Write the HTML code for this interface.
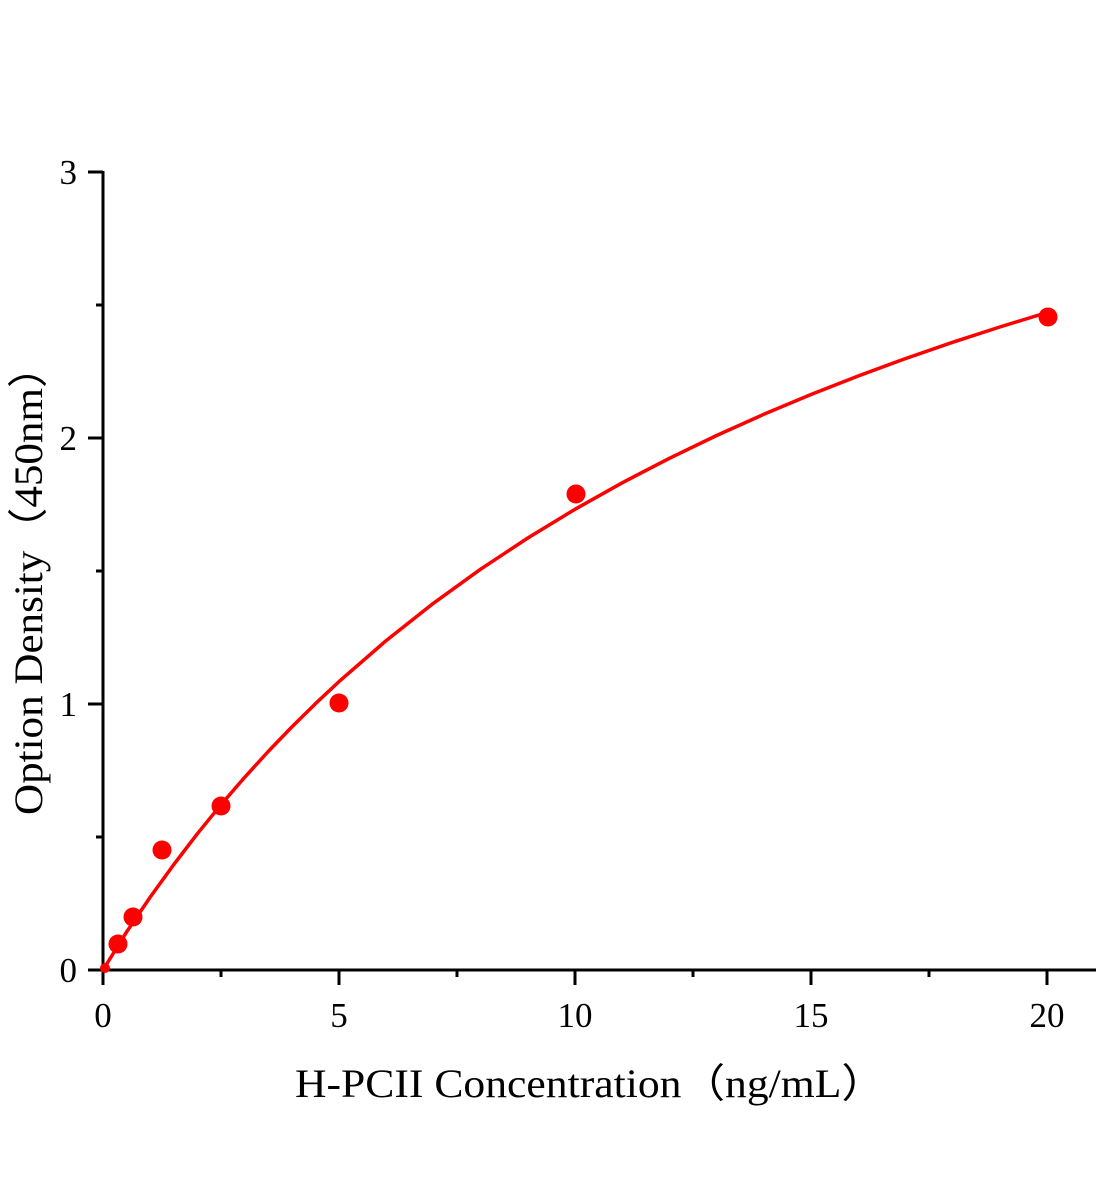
<!DOCTYPE html>
<html><head><meta charset="utf-8"><style>html,body{margin:0;padding:0;background:#fff}svg{display:block}text{font-family:"Liberation Serif","Times New Roman",Times,serif}</style></head>
<body>
<svg width="1104" height="1200" viewBox="0 0 1104 1200" xmlns="http://www.w3.org/2000/svg">
<g stroke="#000" stroke-width="3" fill="none">
<line x1="103" y1="970" x2="1096" y2="970"/>
<line x1="103" y1="171" x2="103" y2="971"/>
<line x1="103" y1="970" x2="103" y2="985"/>
<line x1="339" y1="970" x2="339" y2="985"/>
<line x1="575" y1="970" x2="575" y2="985"/>
<line x1="811" y1="970" x2="811" y2="985"/>
<line x1="1047" y1="970" x2="1047" y2="985"/>
<line x1="221" y1="970" x2="221" y2="977"/>
<line x1="457" y1="970" x2="457" y2="977"/>
<line x1="693" y1="970" x2="693" y2="977"/>
<line x1="929" y1="970" x2="929" y2="977"/>
<line x1="88" y1="970" x2="103" y2="970"/>
<line x1="88" y1="704" x2="103" y2="704"/>
<line x1="88" y1="438" x2="103" y2="438"/>
<line x1="88" y1="172" x2="103" y2="172"/>
<line x1="96" y1="837" x2="103" y2="837"/>
<line x1="96" y1="571" x2="103" y2="571"/>
<line x1="96" y1="305" x2="103" y2="305"/>
</g>
<g font-size="35" fill="#000">
<g text-anchor="middle">
<text x="103" y="1027">0</text><text x="339" y="1027">5</text><text x="575" y="1027">10</text><text x="811" y="1027">15</text><text x="1047" y="1027">20</text>
</g>
<g text-anchor="end">
<text x="77" y="982">0</text><text x="77" y="716">1</text><text x="77" y="450">2</text><text x="77" y="184">3</text>
</g>
</g>
<text x="295" y="1097" font-size="40" textLength="590" lengthAdjust="spacingAndGlyphs">H-PCII Concentration（ng/mL）</text>
<text transform="translate(42,815) rotate(-90)" font-size="40" textLength="470" lengthAdjust="spacingAndGlyphs">Option Density（450nm）</text>
<polyline fill="none" stroke="#f00" stroke-width="3.5" stroke-linejoin="round" points="103,970 126.6,931.9 150.2,897.1 173.8,864.5 197.4,833.7 221,804.7 244.6,777.4 268.2,751.5 291.8,727 315.4,703.7 339,681.6 386.2,640.6 433.4,603.3 480.6,569.2 527.8,538 575,509.3 622.2,482.8 669.4,458.3 716.6,435.5 763.8,414.3 811,394.5 858.2,376 905.4,358.6 952.6,342.3 999.8,327 1047,312.5"/>
<g fill="#f00">
<circle cx="105" cy="968" r="5"/>
<circle cx="118" cy="944" r="9.5"/>
<circle cx="133" cy="917" r="9.5"/>
<circle cx="162" cy="850" r="9.5"/>
<circle cx="221" cy="806" r="9.5"/>
<circle cx="339" cy="703" r="9.5"/>
<circle cx="576" cy="494" r="9.5"/>
<circle cx="1048" cy="317" r="9.5"/>
</g>
</svg>
</body></html>
